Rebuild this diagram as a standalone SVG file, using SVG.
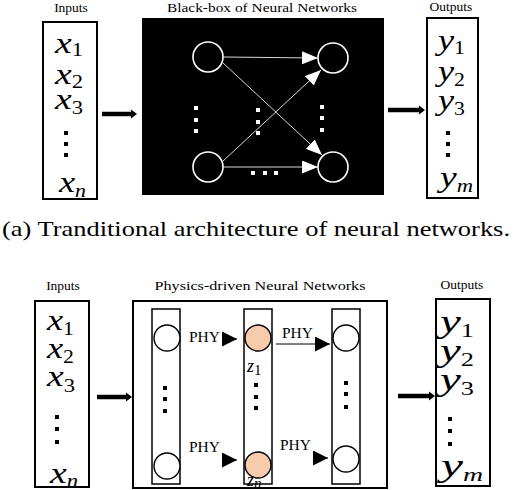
<svg xmlns="http://www.w3.org/2000/svg" width="530" height="490" viewBox="0 0 530 490" font-family="'Liberation Serif', 'Times New Roman', serif">
<style>
.ttl{font-size:13.5px}
.m{font-style:italic;font-size:30px}
.mb{font-style:italic;font-size:32px}
.s{font-style:normal;font-size:18px}
.sub{font-style:italic;font-size:18px}
.box{fill:#fff;stroke:#000;stroke-width:2}
.col{fill:none;stroke:#000;stroke-width:1.5}
.wc{fill:none;stroke:#fff;stroke-width:1.6}
.bc{fill:#fff;stroke:#000;stroke-width:1.4}
.pc{fill:#F8CBAD;stroke:#000;stroke-width:1.4}
.wl{stroke:#d8d8d8;stroke-width:1;fill:none}
.thick{stroke:#000;stroke-width:4.5;fill:none}
.phy{stroke:#000;stroke-width:1;fill:none}
.wd{fill:#fff}
.bd{fill:#000}
.pt{font-size:14px}
.zt{font-style:italic;font-size:18px}
</style>
<defs>
<marker id="wh" markerUnits="userSpaceOnUse" markerWidth="16" markerHeight="13" refX="16" refY="6.5" orient="auto"><path d="M0,0 L16,6.5 L0,13 z" fill="#fff"/></marker>
<marker id="bh" markerUnits="userSpaceOnUse" markerWidth="15" markerHeight="15" refX="15" refY="7.5" orient="auto"><path d="M0,0 L15,7.5 L0,15 z" fill="#000"/></marker>
<marker id="th" markerUnits="userSpaceOnUse" markerWidth="7" markerHeight="10" refX="1" refY="5" orient="auto"><path d="M0,0.5 L6,5 L0,9.5 z" fill="#000"/></marker>
</defs>
<rect width="530" height="490" fill="#fff"/>

<g id="top-inputs">
<text class="ttl" x="71" y="12" text-anchor="middle">Inputs</text>
<rect class="box" x="43" y="22" width="54" height="177"/>
<text class="m" x="55" y="53" textLength="28" lengthAdjust="spacingAndGlyphs">x<tspan class="s" dy="3">1</tspan></text>
<text class="m" x="55" y="84" textLength="28" lengthAdjust="spacingAndGlyphs">x<tspan class="s" dy="4">2</tspan></text>
<text class="m" x="55" y="109" textLength="28" lengthAdjust="spacingAndGlyphs">x<tspan class="s" dy="5">3</tspan></text>
<rect class="bd" x="64" y="131" width="4" height="4"/>
<rect class="bd" x="64" y="142" width="4" height="4"/>
<rect class="bd" x="64" y="153" width="4" height="4"/>
<text class="m" x="59" y="192" textLength="27" lengthAdjust="spacingAndGlyphs">x<tspan class="sub" dy="5">n</tspan></text>
</g>

<g id="top-blackbox">
<text class="ttl" x="262" y="12" text-anchor="middle" textLength="190" lengthAdjust="spacingAndGlyphs">Black-box of Neural Networks</text>
<rect x="142" y="18" width="242" height="177" fill="#000"/>
<circle class="wc" cx="208" cy="57" r="15"/>
<circle class="wc" cx="208" cy="167" r="15"/>
<circle class="wc" cx="333" cy="58" r="15"/>
<circle class="wc" cx="333" cy="167" r="15"/>
<rect class="wd" x="194" y="106" width="4" height="4"/>
<rect class="wd" x="194" y="118" width="4" height="4"/>
<rect class="wd" x="194" y="129" width="4" height="4"/>
<rect class="wd" x="256" y="108" width="4" height="4"/>
<rect class="wd" x="256" y="120" width="4" height="4"/>
<rect class="wd" x="256" y="131" width="4" height="4"/>
<rect class="wd" x="320" y="105" width="4" height="4"/>
<rect class="wd" x="320" y="116" width="4" height="4"/>
<rect class="wd" x="320" y="128" width="4" height="4"/>
<rect class="wd" x="251" y="171" width="4" height="4"/>
<rect class="wd" x="263" y="171" width="4" height="4"/>
<rect class="wd" x="274" y="171" width="4" height="4"/>
</g>

<g id="top-outputs">
<text class="ttl" x="451" y="11" text-anchor="middle">Outputs</text>
<rect class="box" x="427" y="18" width="51" height="180"/>
<text class="m" x="438" y="50" textLength="27" lengthAdjust="spacingAndGlyphs">y<tspan class="s" dy="4">1</tspan></text>
<text class="m" x="438" y="81" textLength="27" lengthAdjust="spacingAndGlyphs">y<tspan class="s" dy="5">2</tspan></text>
<text class="m" x="438" y="110" textLength="27" lengthAdjust="spacingAndGlyphs">y<tspan class="s" dy="5">3</tspan></text>
<rect class="bd" x="446" y="131" width="4" height="4"/>
<rect class="bd" x="446" y="142" width="4" height="4"/>
<rect class="bd" x="446" y="153" width="4" height="4"/>
<text class="m" x="440" y="187" textLength="33" lengthAdjust="spacingAndGlyphs">y<tspan class="sub" dy="5">m</tspan></text>
</g>

<text id="caption" x="2" y="236" font-size="22" textLength="508" lengthAdjust="spacingAndGlyphs">(a) Tranditional architecture of neural networks.</text>

<g id="bot-inputs">
<text class="ttl" x="63" y="290" text-anchor="middle">Inputs</text>
<rect class="box" x="35" y="301" width="54" height="186"/>
<text class="m" x="47" y="330" textLength="27" lengthAdjust="spacingAndGlyphs">x<tspan class="s" dy="5">1</tspan></text>
<text class="m" x="47" y="358" textLength="27" lengthAdjust="spacingAndGlyphs">x<tspan class="s" dy="5">2</tspan></text>
<text class="m" x="47" y="386" textLength="28" lengthAdjust="spacingAndGlyphs">x<tspan class="s" dy="6">3</tspan></text>
<rect class="bd" x="55" y="415" width="4" height="4"/>
<rect class="bd" x="55" y="427" width="4" height="4"/>
<rect class="bd" x="55" y="440" width="4" height="4"/>
<text class="m" x="50" y="483" textLength="28" lengthAdjust="spacingAndGlyphs">x<tspan class="sub" dy="4">n</tspan></text>
</g>

<g id="bot-physics">
<text class="ttl" x="260" y="290" text-anchor="middle" textLength="211" lengthAdjust="spacingAndGlyphs">Physics-driven Neural Networks</text>
<rect class="box" x="133" y="301" width="254" height="187"/>
</g>

<g id="layer-in">
<rect class="col" x="152" y="309" width="28" height="175"/>
<circle class="bc" cx="167" cy="338" r="13"/>
<circle class="bc" cx="167" cy="466" r="13"/>
<rect class="bd" x="163" y="386" width="4" height="4"/>
<rect class="bd" x="163" y="397" width="4" height="4"/>
<rect class="bd" x="163" y="409" width="4" height="4"/>
</g>

<g id="layer-z">
<rect class="col" x="244" y="309" width="28" height="175"/>
<circle class="pc" cx="258" cy="338" r="13"/>
<circle class="pc" cx="258" cy="465" r="13"/>
<text class="zt" x="247" y="372">z<tspan font-style="normal" font-size="15" dy="3">1</tspan></text>
<text class="zt" x="247" y="486">z<tspan font-size="15" dy="2">n</tspan></text>
<rect class="bd" x="254" y="383" width="4" height="4"/>
<rect class="bd" x="254" y="395" width="4" height="4"/>
<rect class="bd" x="254" y="406" width="4" height="4"/>
</g>

<g id="layer-out">
<rect class="col" x="332" y="309" width="28" height="175"/>
<circle class="bc" cx="346" cy="338" r="13"/>
<circle class="bc" cx="346" cy="459" r="13"/>
<rect class="bd" x="344" y="381" width="4" height="4"/>
<rect class="bd" x="344" y="392" width="4" height="4"/>
<rect class="bd" x="344" y="405" width="4" height="4"/>
</g>

<g id="bot-outputs">
<text class="ttl" x="462" y="289" text-anchor="middle">Outputs</text>
<rect class="box" x="436" y="299" width="54" height="187"/>
<text class="mb" x="440" y="332" textLength="34" lengthAdjust="spacingAndGlyphs">y<tspan class="s" font-size="20" dy="5">1</tspan></text>
<text class="mb" x="440" y="361" textLength="34" lengthAdjust="spacingAndGlyphs">y<tspan class="s" font-size="20" dy="5">2</tspan></text>
<text class="mb" x="440" y="390" textLength="34" lengthAdjust="spacingAndGlyphs">y<tspan class="s" font-size="20" dy="5">3</tspan></text>
<rect class="bd" x="448" y="417" width="4" height="4"/>
<rect class="bd" x="448" y="429" width="4" height="4"/>
<rect class="bd" x="448" y="442" width="4" height="4"/>
<text class="mb" x="441" y="476" textLength="42" lengthAdjust="spacingAndGlyphs">y<tspan class="sub" font-size="20" dy="5">m</tspan></text>
</g>

<g id="connectors">
<line class="thick" x1="102" y1="114" x2="132" y2="114" marker-end="url(#th)"/>
<line class="thick" x1="388" y1="110" x2="420" y2="110" marker-end="url(#th)"/>
<line class="wl" x1="223" y1="57" x2="318" y2="58" marker-end="url(#wh)"/>
<line class="wl" x1="222" y1="62" x2="322" y2="155" marker-end="url(#wh)"/>
<line class="wl" x1="222" y1="162" x2="321" y2="70" marker-end="url(#wh)"/>
<line class="wl" x1="223" y1="167" x2="318" y2="167" marker-end="url(#wh)"/>
<line class="thick" x1="97" y1="397" x2="127" y2="397" marker-end="url(#th)"/>
<line class="thick" x1="398" y1="396" x2="430" y2="396" marker-end="url(#th)"/>
<line class="phy" x1="222" y1="339" x2="237" y2="339" marker-end="url(#bh)"/>
<line class="phy" x1="222" y1="460" x2="237" y2="460" marker-end="url(#bh)"/>
<line class="phy" x1="276" y1="344" x2="330" y2="344" marker-end="url(#bh)"/>
<line class="phy" x1="313" y1="458" x2="328" y2="458" marker-end="url(#bh)"/>
<text class="pt" x="189" y="342" textLength="31" lengthAdjust="spacingAndGlyphs">PHY</text>
<text class="pt" x="189" y="452" textLength="31" lengthAdjust="spacingAndGlyphs">PHY</text>
<text class="pt" x="282" y="338" textLength="31" lengthAdjust="spacingAndGlyphs">PHY</text>
<text class="pt" x="280" y="450" textLength="31" lengthAdjust="spacingAndGlyphs">PHY</text>
</g>
</svg>
